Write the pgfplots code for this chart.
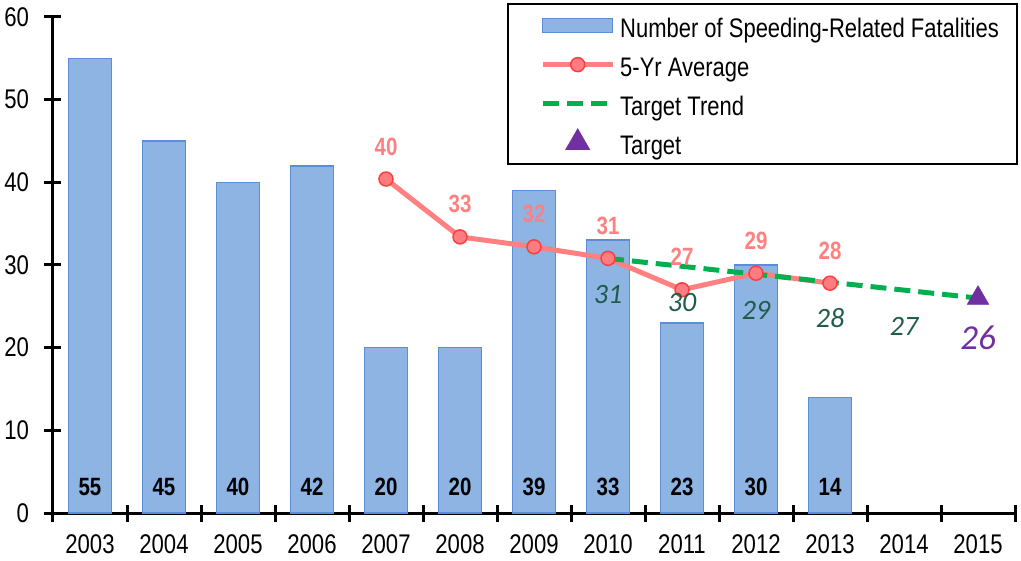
\documentclass[border=0pt]{standalone}
\usepackage{fontspec}
\setmainfont{Liberation Sans}[FakeStretch=0.82]
\newfontfamily\calib{Carlito}
\usepackage{pgfplots}
\usepackage{pgfplotstable}
\pgfplotsset{compat=1.18}

\definecolor{barfill}{HTML}{8DB4E2}
\definecolor{bardraw}{HTML}{5B8ED6}
\definecolor{pinkline}{HTML}{FF8080}
\definecolor{pinkfill}{HTML}{FF7C80}
\definecolor{pinkedge}{HTML}{FF3F3F}
\definecolor{trendgreen}{HTML}{00B050}
\definecolor{labgreen}{HTML}{1F5C4C}
\definecolor{tgtpurple}{HTML}{7030A0}

% speeding-related fatalities, 2003 = 0
\pgfplotstableread{
x y
0 55
1 45
2 40
3 42
4 20
5 20
6 39
7 33
8 23
9 30
10 14
}\bars

\pgfplotstableread{
x y
4 40.4
5 33.4
6 32.2
7 30.8
8 27.0
9 29.0
10 27.8
}\avg

\pgfplotstableread{
x y
7 30.8
8 29.84
9 28.88
10 27.92
11 26.96
12 26.0
}\trend

\pgfplotstableread{
x y
12 26
}\target

\begin{document}
\begin{tikzpicture}
\begin{axis}[
    scale only axis,
    width=962pt, height=496pt,
    xmin=-0.5, xmax=12.5,
    ymin=0, ymax=60,
    clip=false,
    axis x line*=bottom, axis y line*=left,
    axis line style={-, line width=3pt},
    tick style={black, line width=3pt},
    tick align=center,
    major tick length=17pt,
    xtick={-0.5,0.5,...,12.5},
    xticklabels={},
    extra x ticks={0,1,...,12},
    extra x tick labels={2003,2004,2005,2006,2007,2008,2009,2010,2011,2012,2013,2014,2015},
    extra x tick style={major tick length=0pt},
    ytick={0,10,...,60},
    /pgf/number format/assume math mode=true,
    tick label style={font=\fontsize{27}{32}\selectfont},
    yticklabel style={xshift=-12pt},
    xticklabel style={yshift=-16.5pt, inner ysep=5pt},
    legend style={at={(1.003,1.028)}, anchor=north east, draw=black,
        line width=2pt, inner xsep=16pt, inner ysep=2pt,
        font=\fontsize{26.8}{31}\selectfont,
        nodes={text height=24pt, text depth=1pt, inner ysep=7pt}},
    legend cell align=left,
    legend image code/.code={
        \path (-16pt,0pt) (73pt,0pt);
        \draw[mark repeat=2, mark phase=2, #1] plot coordinates {(0pt,0pt) (35pt,0pt) (70pt,0pt)};
    },
]
% bars
\addplot[ybar, bar width=0.58, fill=barfill, draw=bardraw, line width=1.5pt,
    legend image code/.code={
        \path (-16pt,0pt) (73pt,0pt);
        \draw[fill=barfill, draw=bardraw, line width=1.5pt] (0pt,-7pt) rectangle (70pt,7pt);
    }] table[x=x, y=y] {\bars};
% bar values at the foot of each bar
\addplot[draw=none, forget plot, nodes near coords, point meta=\thisrow{y},
    every node near coord/.style={anchor=base, inner sep=0pt, yshift=17pt,
        font=\fontsize{25}{29}\selectfont\bfseries, text=black}]
    table[x=x, y expr=0] {\bars};
% 5-yr average
\addplot[pinkline, line width=5pt, mark=*, mark size=7pt,
    mark options={fill=pinkfill, draw=pinkedge, line width=1.5pt},
    nodes near coords={\pgfmathprintnumber[fixed, precision=0]{\pgfplotspointmeta}},
    point meta=y,
    every node near coord/.style={anchor=base, inner sep=0pt, yshift=24pt,
        font=\fontsize{25}{29}\selectfont\bfseries, text=pinkline}]
    table[x=x, y=y] {\avg};
% target trend
\addplot[trendgreen, line width=5pt, dash pattern=on 16pt off 8pt]
    table[x=x, y=y] {\trend};
\addplot[draw=none, forget plot, skip coords between index={5}{6},
    nodes near coords={\pgfmathprintnumber[fixed, precision=0]{\pgfplotspointmeta}},
    point meta=y,
    every node near coord/.style={anchor=base, inner sep=0pt, yshift=-45pt,
        font=\fontsize{28}{32}\selectfont\calib\itshape, text=labgreen}]
    table[x=x, y=y] {\trend};
% target
\addplot[only marks, mark=triangle*, mark size=12.5pt,
    mark options={fill=tgtpurple, draw=tgtpurple},
    nodes near coords, point meta=y,
    every node near coord/.style={anchor=base, inner sep=0pt, yshift=-51pt,
        font=\fontsize{35}{40}\selectfont\calib\itshape, text=tgtpurple}]
    table[x=x, y=y] {\target};
\legend{Number of Speeding-Related Fatalities, 5-Yr Average, Target Trend, Target}
\coordinate (sw) at (rel axis cs:0,0);
\coordinate (ne) at (rel axis cs:1,1);
\end{axis}
% page frame, in the reference's margins round the axis
\pgfresetboundingbox
\path ([shift={(-53pt,-48pt)}]sw) rectangle ([shift={(6pt,17pt)}]ne);
\end{tikzpicture}
\end{document}
